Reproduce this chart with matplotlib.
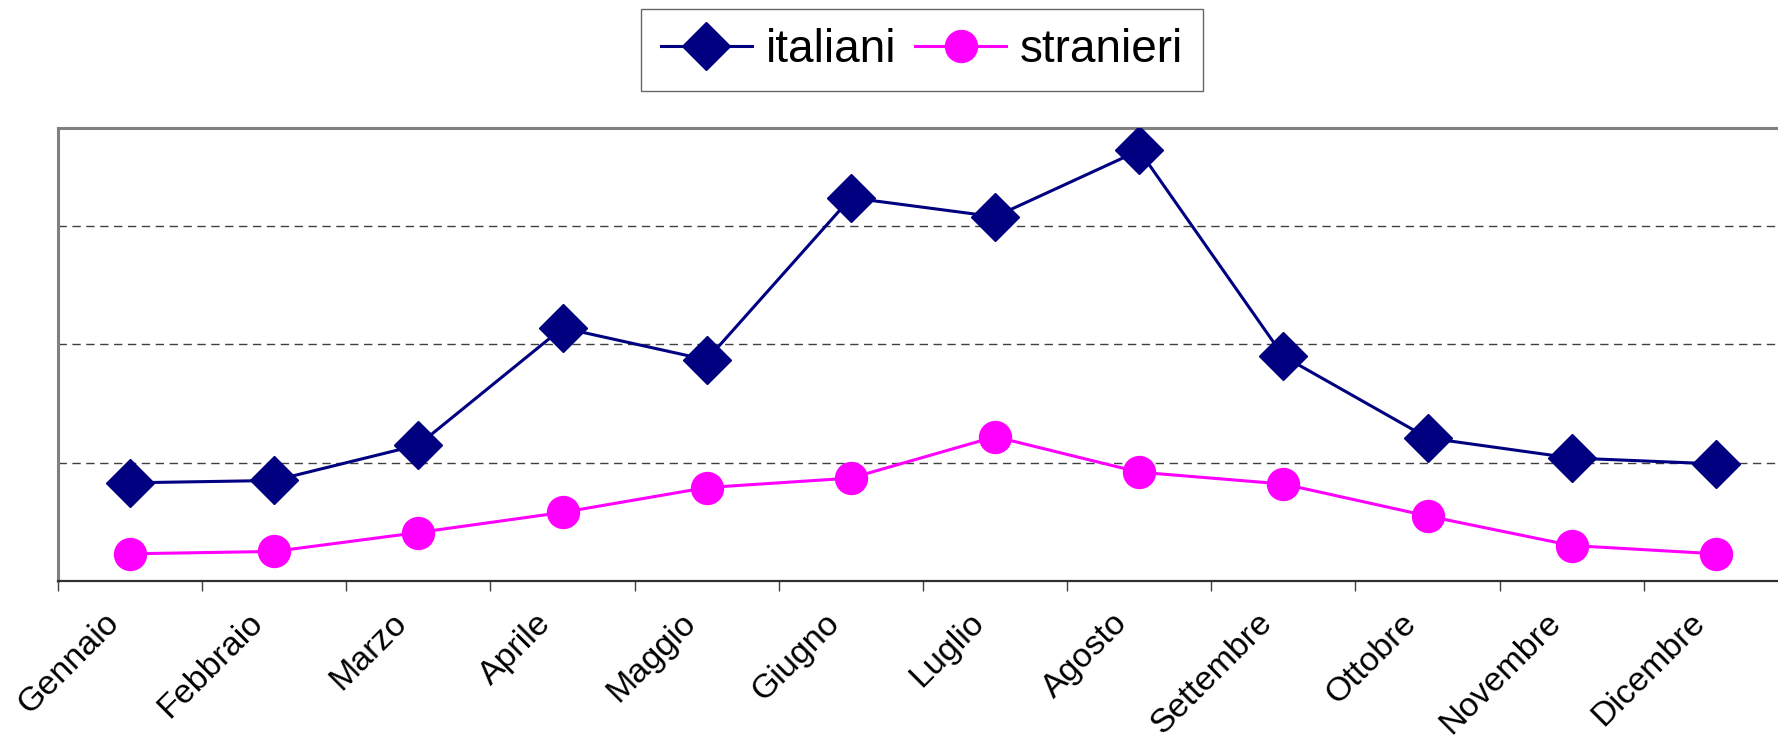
#!/bin/python
import matplotlib
matplotlib.use('Agg')
import matplotlib.pyplot as plt
from matplotlib import transforms

# monthly values (arbitrary units, the reference has no y labels)
mesi = ['Gennaio', 'Febbraio', 'Marzo', 'Aprile', 'Maggio', 'Giugno',
        'Luglio', 'Agosto', 'Settembre', 'Ottobre', 'Novembre', 'Dicembre']
italiani = [0.83, 0.85, 1.15, 2.14, 1.87, 3.24, 3.08, 3.64, 1.90, 1.21, 1.04, 0.99]
stranieri = [0.23, 0.25, 0.41, 0.58, 0.79, 0.87, 1.22, 0.92, 0.82, 0.55, 0.30, 0.23]
grid_levels = [1, 2, 3]
series_names = ['italiani', 'stranieri']


def plot_presenze(file_name='out.png'):
    """line chart of monthly presences, excel style"""
    plt.rcParams['font.family'] = ['Liberation Sans', 'DejaVu Sans']

    fig = plt.figure(figsize=(17.78, 7.39), dpi=100)
    # axes runs off the right edge of the picture, like the cropped original
    ax = fig.add_axes([0.0326, 0.2138, 0.9730, 0.613])

    x = list(range(len(mesi)))
    ax.plot(x, italiani, color='#000080', linewidth=2.2, marker='D',
            markersize=24, label=series_names[0], zorder=3)
    ax.plot(x, stranieri, color='#FF00FF', linewidth=2.2, marker='o',
            markersize=23, label=series_names[1], zorder=3)

    ax.set_xlim(-0.5, len(mesi) - 0.5)
    ax.set_ylim(0, 3.83)

    # dashed horizontal gridlines, no y labels
    ax.set_yticks(grid_levels)
    ax.set_yticklabels([])
    ax.tick_params(axis='y', length=0)
    ax.yaxis.grid(True, linestyle=(0, (6, 4)), color='#404040', linewidth=1.0)
    ax.set_axisbelow(True)

    # tick marks between categories, labels on the categories
    ax.set_xticks([i - 0.5 for i in x])
    ax.set_xticklabels([])
    ax.tick_params(axis='x', which='major', direction='out', length=7,
                   width=1.0, color='#404040')
    ax.set_xticks(x, minor=True)
    ax.set_xticklabels(mesi, minor=True, rotation=45, ha='right', va='top',
                       fontsize=24.5)
    ax.tick_params(axis='x', which='minor', length=0, pad=19)
    shift = transforms.ScaledTranslation(-5 / 100, 0, fig.dpi_scale_trans)
    for lab in ax.get_xticklabels(minor=True):
        lab.set_transform(lab.get_transform() + shift)

    for side in ['left', 'top']:
        ax.spines[side].set_color('#808080')
        ax.spines[side].set_linewidth(2.2)
    ax.spines['bottom'].set_color('#303030')
    ax.spines['bottom'].set_linewidth(1.6)
    ax.spines['right'].set_visible(False)

    leg = fig.legend(loc='center', bbox_to_anchor=(922 / 1778, 1 - 50 / 739),
                     ncol=2, fontsize=33, frameon=True, fancybox=False,
                     handlelength=2.0, handletextpad=0.3, columnspacing=0.4,
                     borderpad=0.42, borderaxespad=0)
    leg.get_frame().set_edgecolor('#404040')
    leg.get_frame().set_linewidth(1.0)

    fig.savefig(file_name, dpi=100)
    plt.close(fig)


if __name__ == '__main__':
    plot_presenze('out.png')
